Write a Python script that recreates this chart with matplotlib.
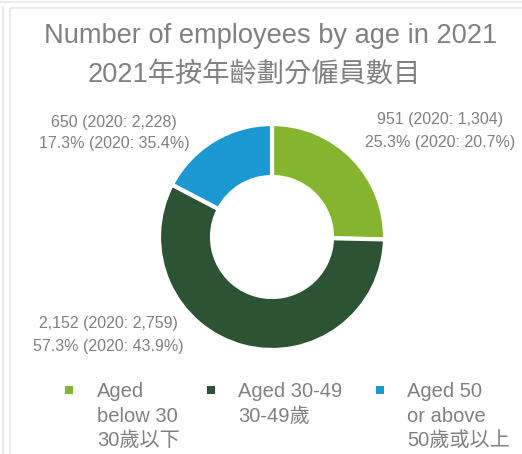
import matplotlib
matplotlib.use("Agg")
import matplotlib.pyplot as plt
from matplotlib.patches import Rectangle

# Employee head count by age group, 2021 vs 2020
groups = ["Aged below 30", "Aged 30-49", "Aged 50 or above"]
legend_lines = [
    ["Aged", "below 30", "30歲以下"],
    ["Aged 30-49", "30-49歲"],
    ["Aged 50", "or above", "50歲或以上"],
]
counts_2021 = [951, 2152, 650]
counts_2020 = [1304, 2759, 2228]
colors = ["#85b52f", "#2c5334", "#1b98d1"]

title_en = "Number of employees by age in 2021"
title_zh = "2021年按年齡劃分僱員數目"

W, H = 522, 454
TEXT = "#808080"
FONTS = ["Liberation Sans", "Noto Sans CJK TC", "DejaVu Sans"]

fig = plt.figure(figsize=(W / 100, H / 100), dpi=100)
ax = fig.add_axes([0, 0, 1, 1])


def y(px):
    # work in pixel units measured from the top edge
    return H - px


# donut
cx, cy, r_out, r_in = 272, 237, 113, 60
wedges, _ = ax.pie(
    counts_2021,
    colors=colors,
    startangle=90,
    counterclock=False,
    radius=r_out,
    center=(cx, y(cy)),
    wedgeprops=dict(width=r_out - r_in, edgecolor="white", linewidth=3),
)
ax.set_xlim(0, W)
ax.set_ylim(0, H)
ax.set_aspect("equal")
ax.axis("off")

# panel outlines
border = dict(color="#e4e4e4", lw=1.1, solid_capstyle="butt")
ax.plot([0, W], [y(1.5), y(1.5)], **border)
ax.plot([2.5, 2.5], [y(7), 0], **border)
ax.plot([9.5, W], [y(7.5), y(7.5)], **border)
ax.plot([9.5, 9.5], [y(7.5), 0], **border)

# titles
ax.text(271, y(42.7), title_en, ha="center", va="baseline",
        fontsize=19.6, color=TEXT, family=FONTS)
ax.text(254, y(81.7), title_zh, ha="center", va="baseline",
        fontsize=19.6, color=TEXT, family=FONTS)

# value labels
total_2021 = sum(counts_2021)
total_2020 = sum(counts_2020)
label_pos = [(440, 124, 146.7), (108, 327.7, 350.7), (114, 126.7, 148)]
for n21, n20, (lx, b1, b2) in zip(counts_2021, counts_2020, label_pos):
    p21 = 100 * n21 / total_2021
    p20 = 100 * n20 / total_2020
    ax.text(lx, y(b1), f"{n21:,} (2020: {n20:,})", ha="center",
            va="baseline", fontsize=11.5, color=TEXT, family=FONTS)
    ax.text(lx, y(b2), f"{p21:.1f}% (2020: {p20:.1f}%)", ha="center",
            va="baseline", fontsize=11.5, color=TEXT, family=FONTS)

# legend
legend_x = [(69, 97), (211, 238), (379.5, 407)]
baselines = [397, 421.5, 446]
for (sx, tx), lines, c in zip(legend_x, legend_lines, colors):
    ax.add_patch(Rectangle((sx - 4, y(394)), 8, 8, color=c, lw=0))
    for b, line in zip(baselines, lines):
        ax.text(tx, y(b), line, ha="left", va="baseline",
                fontsize=14.5, color=TEXT, family=FONTS)

fig.savefig("out.png", dpi=100)
